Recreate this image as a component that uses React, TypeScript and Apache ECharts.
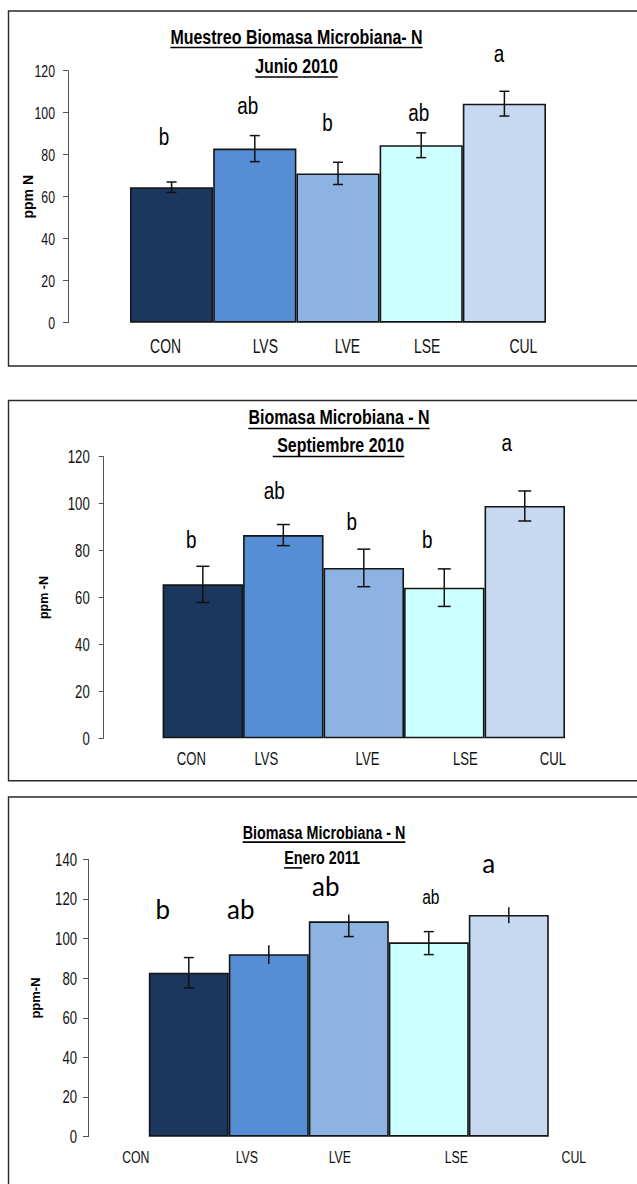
import React, { useEffect, useRef } from "react";
import * as echarts from "echarts";

// ---------- DATA ----------
const categories = ["CON", "LVS", "LVE", "LSE", "CUL"];
const barColors = ["#1b375e", "#558ed5", "#8db3e2", "#ccffff", "#c6d9f0"];

// Junio 2010
const junioValues = [64.5, 82.9, 71.1, 84.5, 104.3];
const junioErrUp = [2.5, 6.2, 5.3, 5.9, 5.9];
const junioErrDown = [2.5, 6.2, 5.3, 5.9, 5.9];
const junioLetters = ["b", "ab", "b", "ab", "a"];
const junioLetterAt = [88.4, 103.2, 95.1, 99.9, 128.0];
const junioTicks = [0, 20, 40, 60, 80, 100, 120];

// Septiembre 2010
const septValues = [65.6, 86.6, 72.6, 64.2, 99.0];
const septErrUp = [7.7, 4.5, 8.0, 8.0, 6.4];
const septErrDown = [7.7, 4.5, 8.0, 8.0, 6.4];
const septLetters = ["b", "ab", "b", "b", "a"];
const septLetterAt = [84.5, 105.5, 92.2, 84.5, 125.8];
const septTicks = [0, 20, 40, 60, 80, 100, 120];

// Enero 2011
const eneroValues = [82.8, 92.1, 108.7, 98.1, 111.9];
const eneroErrUp = [7.6, 4.5, 3.5, 5.4, 3.9];
const eneroErrDown = [7.7, 5.0, 7.7, 6.2, 4.2];
const eneroCapTop = [1, 0, 0, 1, 0];
const eneroCapBottom = [1, 0, 1, 1, 0];
const eneroLetters = ["b", "ab", "ab", "ab", "a"];
const eneroLetterAt = [114.7, 114.7, 126.5, 121.0, 138.3];
const eneroTicks = [0, 20, 40, 60, 80, 100, 120, 140];

// ---------- LAYOUT / STYLE ----------
const SANS = '"Liberation Sans", Arial, sans-serif';
const LATO = 'Lato, "Open Sans", sans-serif';
const NARROW_SX = 0.82; // Arial Narrow emulation
const TALL_SY = 1.15; // the source figure is slightly stretched vertically
const TITLE_SY = 1.08;

type FontSpec = { family: string; size: number; sx: number; sy: number };
type TitleLine = { text: string; cx: number; cy: number; underline?: string };
type Panel = {
  values: number[];
  errUp: number[];
  errDown: number[];
  capTop: number[];
  capBottom: number[];
  letters: string[];
  letterAt: number[];
  ticks: number[];
  box: { top: number; bottom: number };
  grid: { left: number; right: number; top: number; bottom: number };
  axisX: number;
  tickFont: number;
  tickMargin: number;
  yName: string;
  yNameX: number;
  yNameFont: number;
  titleFont: number;
  underlineGap: number;
  titles: TitleLine[];
  catFont: number;
  catGap: number;
  catDx: number[];
  letterDx: number[];
  letterFonts: FontSpec[];
  capW: number;
};

const allOnes = [1, 1, 1, 1, 1];
const narrowLetters: FontSpec[] = Array(5).fill({ family: SANS, size: 23, sx: NARROW_SX, sy: 1 });

const panels: Panel[] = [
  {
    values: junioValues,
    errUp: junioErrUp,
    errDown: junioErrDown,
    capTop: allOnes,
    capBottom: allOnes,
    letters: junioLetters,
    letterAt: junioLetterAt,
    ticks: junioTicks,
    box: { top: 11, bottom: 366 },
    grid: { left: 130, right: 546, top: 70.7, bottom: 322.7 },
    axisX: 68,
    tickFont: 15,
    tickMargin: 13,
    yName: "ppm N",
    yNameX: 27.6,
    yNameFont: 14,
    titleFont: 19.5,
    underlineGap: 11,
    titles: [
      { text: "Muestreo Biomasa Microbiana- N", cx: 296.5, cy: 36.5 },
      { text: "Junio 2010", cx: 296.5, cy: 66 },
    ],
    catFont: 17,
    catGap: 24,
    catDx: [-6, 10.5, 9.5, 6, 19],
    letterDx: [-7.5, -7, -10.5, -2.5, -5.5],
    letterFonts: narrowLetters,
    capW: 10,
  },
  {
    values: septValues,
    errUp: septErrUp,
    errDown: septErrDown,
    capTop: allOnes,
    capBottom: allOnes,
    letters: septLetters,
    letterAt: septLetterAt,
    ticks: septTicks,
    box: { top: 400.5, bottom: 780.7 },
    grid: { left: 162.6, right: 565, top: 456.7, bottom: 738.3 },
    axisX: 103.7,
    tickFont: 16,
    tickMargin: 14,
    yName: "ppm -N",
    yNameX: 44,
    yNameFont: 12.5,
    titleFont: 19.5,
    underlineGap: 11.5,
    titles: [
      { text: "Biomasa Microbiana - N", cx: 339, cy: 417 },
      { text: " Septiembre 2010", cx: 338.5, cy: 445 },
    ],
    catFont: 16,
    catGap: 20,
    catDx: [-11.5, -17, 3.7, 21, 28.2],
    letterDx: [-11.6, -9, -12, -17, -18],
    letterFonts: narrowLetters,
    capW: 13,
  },
  {
    values: eneroValues,
    errUp: eneroErrUp,
    errDown: eneroErrDown,
    capTop: eneroCapTop,
    capBottom: eneroCapBottom,
    letters: eneroLetters,
    letterAt: eneroLetterAt,
    ticks: eneroTicks,
    box: { top: 797, bottom: 1200 },
    grid: { left: 148.8, right: 548.8, top: 859.3, bottom: 1136.7 },
    axisX: 88,
    tickFont: 16,
    tickMargin: 11,
    yName: "ppm-N",
    yNameX: 35.5,
    yNameFont: 13,
    titleFont: 17.5,
    underlineGap: 9.6,
    titles: [
      { text: "Biomasa Microbiana - N", cx: 324, cy: 832.5 },
      { text: "Enero 2011", cx: 322, cy: 858.3, underline: "En" },
    ],
    catFont: 15,
    catGap: 20,
    catDx: [-53, -22, -9, 27.5, 65],
    letterDx: [-26, -28, -23, 2, -20],
    letterFonts: [
      { family: LATO, size: 26, sx: 1, sy: 1 },
      { family: LATO, size: 26, sx: 1, sy: 1 },
      { family: LATO, size: 26, sx: 1, sy: 1 },
      { family: SANS, size: 19, sx: NARROW_SX, sy: 1.08 },
      { family: LATO, size: 26, sx: 1, sy: 1 },
    ],
    capW: 10,
  },
];

function measure(text: string, font: string): number {
  const c = document.createElement("canvas");
  const ctx = c.getContext("2d");
  if (!ctx) return text.length * 8;
  ctx.font = font;
  return ctx.measureText(text).width;
}

function buildOption() {
  const grid: any[] = [];
  const xAxis: any[] = [];
  const yAxis: any[] = [];
  const series: any[] = [];
  const graphic: any[] = [];

  panels.forEach((p, k) => {
    const tMin = p.ticks[0];
    const tMax = p.ticks[p.ticks.length - 1];
    const tStep = p.ticks[1] - p.ticks[0];
    grid.push({
      left: p.grid.left,
      top: p.grid.top,
      width: p.grid.right - p.grid.left,
      height: p.grid.bottom - p.grid.top,
      containLabel: false,
    });
    xAxis.push({
      type: "category",
      gridIndex: k,
      data: categories,
      boundaryGap: true,
      axisLine: { show: false },
      axisTick: { show: false },
      axisLabel: { show: false },
      splitLine: { show: false },
    });
    yAxis.push({
      type: "value",
      gridIndex: k,
      min: tMin,
      max: tMax,
      interval: tStep,
      offset: p.grid.left - p.axisX,
      axisLine: { show: true, lineStyle: { color: "#555", width: 1 } },
      axisTick: { show: true, inside: false, length: 5, lineStyle: { color: "#555" } },
      axisLabel: { show: false },
      splitLine: { show: false },
    });

    series.push({
      type: "bar",
      xAxisIndex: k,
      yAxisIndex: k,
      barWidth: "100%",
      barCategoryGap: "0%",
      data: p.values.map((v, i) => ({
        value: v,
        itemStyle: { color: barColors[i] },
      })),
      itemStyle: { borderColor: "#151515", borderWidth: 1.6 },
      silent: true,
    });

    // y tick labels (narrow, drawn on the axis scale)
    series.push({
      type: "custom",
      xAxisIndex: k,
      yAxisIndex: k,
      clip: false,
      silent: true,
      z: 6,
      data: p.ticks.map((t) => [0, t]),
      encode: { x: 0, y: 1 },
      renderItem: (_params: any, api: any) => {
        const v = api.value(1);
        const pos = api.coord([0, v]);
        return {
          type: "text",
          x: p.axisX - p.tickMargin,
          y: pos[1],
          scaleX: NARROW_SX,
          scaleY: TALL_SY,
          style: {
            text: String(v),
            fill: "#111",
            fontFamily: SANS,
            fontSize: p.tickFont,
            align: "right",
            verticalAlign: "middle",
          },
        };
      },
    });

    // error bars
    series.push({
      type: "custom",
      xAxisIndex: k,
      yAxisIndex: k,
      clip: false,
      silent: true,
      z: 5,
      data: p.values.map((v, i) => [i, v, p.errUp[i], p.errDown[i], p.capTop[i], p.capBottom[i]]),
      encode: { x: 0, y: 1 },
      renderItem: (_params: any, api: any) => {
        const i = api.value(0);
        const v = api.value(1);
        const up = api.value(2);
        const dn = api.value(3);
        const ct = api.value(4);
        const cb = api.value(5);
        const top = api.coord([i, v + up]);
        const bot = api.coord([i, v - dn]);
        const x = top[0];
        const st = { stroke: "#111", lineWidth: 1.5 };
        const children: any[] = [
          { type: "line", shape: { x1: x, y1: top[1], x2: x, y2: bot[1] }, style: st },
        ];
        const hw = p.capW / 2;
        if (ct) children.push({ type: "line", shape: { x1: x - hw, y1: top[1], x2: x + hw, y2: top[1] }, style: st });
        if (cb) children.push({ type: "line", shape: { x1: x - hw, y1: bot[1], x2: x + hw, y2: bot[1] }, style: st });
        return { type: "group", children };
      },
    });

    // letters & category labels
    series.push({
      type: "custom",
      xAxisIndex: k,
      yAxisIndex: k,
      clip: false,
      silent: true,
      z: 6,
      data: p.letterAt.map((y, i) => [i, y]),
      encode: { x: 0, y: 1 },
      renderItem: (_params: any, api: any) => {
        const i = api.value(0);
        const pos = api.coord([i, api.value(1)]);
        const base = api.coord([i, 0]);
        const lf = p.letterFonts[i];
        return {
          type: "group",
          children: [
            {
              type: "text",
              x: pos[0] + p.letterDx[i],
              y: pos[1],
              scaleX: lf.sx,
              scaleY: lf.sy,
              style: {
                text: p.letters[i],
                fill: "#000",
                fontFamily: lf.family,
                fontSize: lf.size,
                align: "center",
                verticalAlign: "middle",
              },
            },
            {
              type: "text",
              x: base[0] + p.catDx[i],
              y: base[1] + p.catGap,
              scaleX: NARROW_SX,
              scaleY: TALL_SY,
              style: {
                text: categories[i],
                fill: "#111",
                fontFamily: SANS,
                fontSize: p.catFont,
                align: "center",
                verticalAlign: "middle",
              },
            },
          ],
        };
      },
    });

    // frame
    graphic.push({
      type: "rect",
      shape: { x: 8.5, y: p.box.top, width: 640, height: p.box.bottom - p.box.top },
      style: { fill: "none", stroke: "#2a2a2a", lineWidth: 1.4 },
      silent: true,
    });

    // titles
    const tFont = `bold ${p.titleFont}px "Liberation Sans"`;
    p.titles.forEach((t) => {
      graphic.push({
        type: "text",
        x: t.cx,
        y: t.cy,
        scaleX: NARROW_SX,
        scaleY: TITLE_SY,
        style: {
          text: t.text,
          fill: "#000",
          fontFamily: SANS,
          fontWeight: "bold",
          fontSize: p.titleFont,
          align: "center",
          verticalAlign: "middle",
        },
        silent: true,
      });
      const w = measure(t.text, tFont) * NARROW_SX;
      const x0 = t.cx - w / 2;
      const uw = (t.underline ? measure(t.underline, tFont) : measure(t.text, tFont)) * NARROW_SX;
      graphic.push({
        type: "line",
        shape: { x1: x0, y1: t.cy + p.underlineGap, x2: x0 + uw, y2: t.cy + p.underlineGap },
        style: { stroke: "#000", lineWidth: 1.6 },
        silent: true,
      });
    });

    // y-axis name
    graphic.push({
      type: "text",
      x: p.yNameX,
      y: (p.grid.top + p.grid.bottom) / 2,
      rotation: Math.PI / 2,
      style: {
        text: p.yName,
        fill: "#000",
        fontFamily: SANS,
        fontWeight: "bold",
        fontSize: p.yNameFont,
        align: "center",
        verticalAlign: "middle",
      },
      silent: true,
    });
  });

  return {
    animation: false,
    backgroundColor: "#ffffff",
    grid,
    xAxis,
    yAxis,
    series,
    graphic,
  };
}

export default function App() {
  const ref = useRef<HTMLDivElement>(null);
  useEffect(() => {
    if (!ref.current) return;
    const chart = echarts.init(ref.current, undefined, { renderer: "svg" });
    chart.setOption(buildOption() as any);
    return () => {
      chart.dispose();
    };
  }, []);
  return (
    <div
      ref={ref}
      style={{ position: "absolute", left: 0, top: 0, width: 637, height: 1184, background: "#fff" }}
    />
  );
}
